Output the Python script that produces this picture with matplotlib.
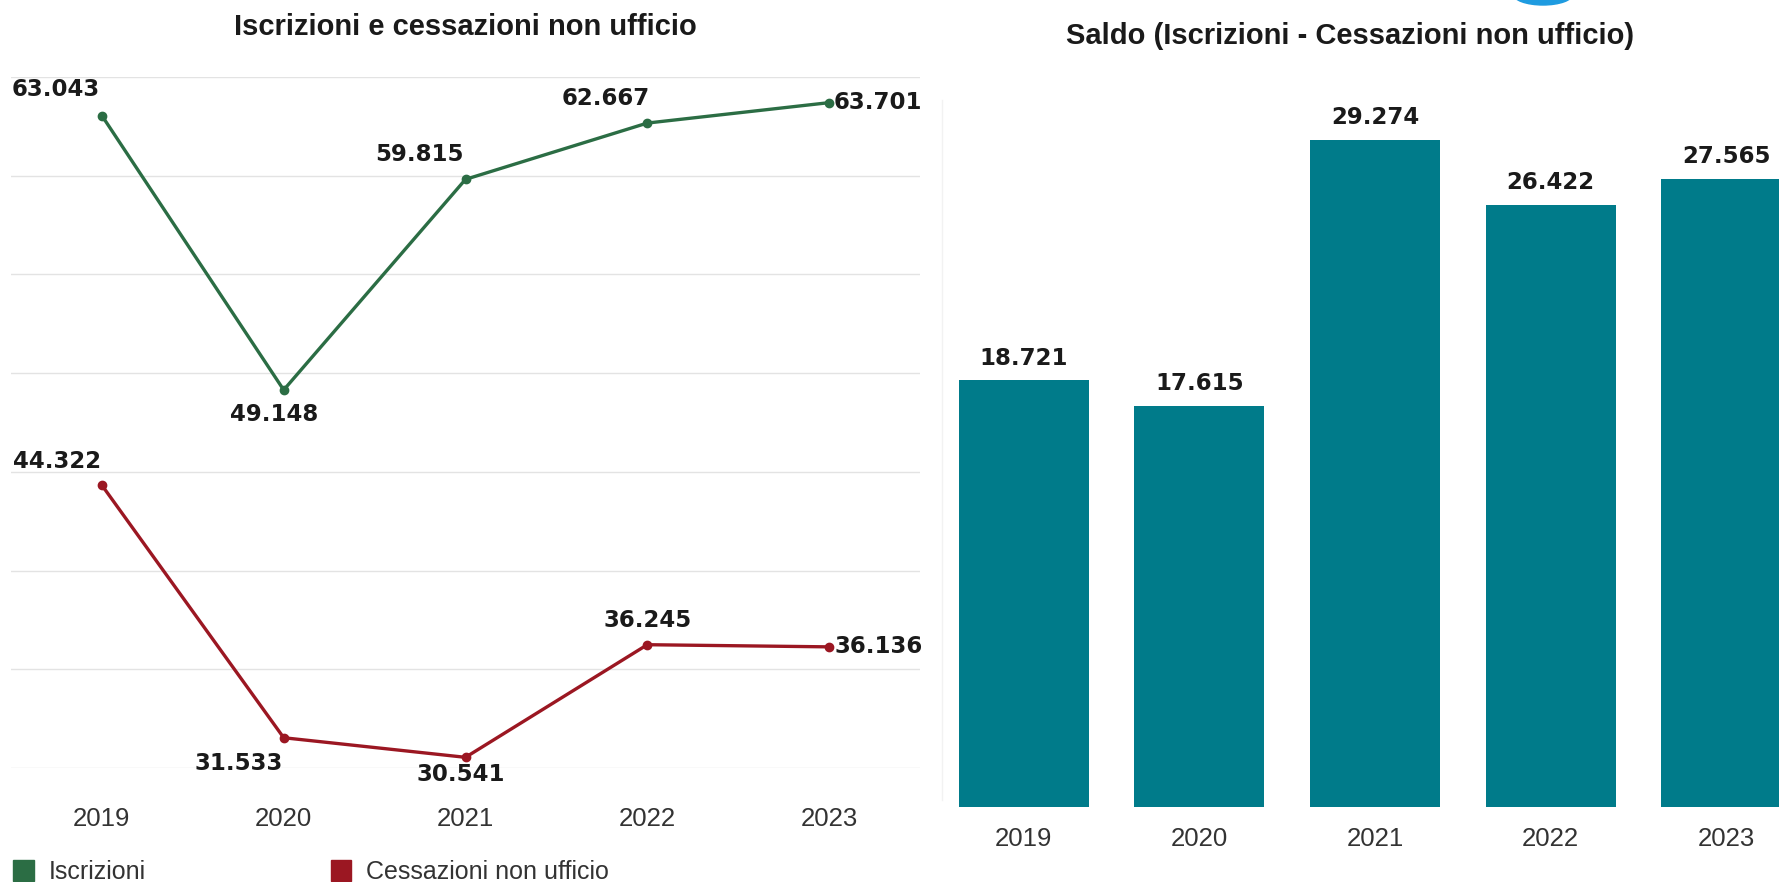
import matplotlib.pyplot as plt
from matplotlib.patches import Patch, Ellipse

# data
years = ["2019", "2020", "2021", "2022", "2023"]
iscrizioni = [63043, 49148, 59815, 62667, 63701]
cessazioni = [44322, 31533, 30541, 36245, 36136]
saldo = [18721, 17615, 29274, 26422, 27565]

GREEN = "#2b6d44"
RED = "#9b1722"
TEAL = "#007b8a"
GRID = "#e3e3e3"

NUM_FONT = ["DejaVu Sans"]
TXT_FONT = ["Liberation Sans", "DejaVu Sans"]


def fmt(v):
    # italian thousands separator
    return f"{v:,}".replace(",", ".")


W, H = 1779, 882
fig = plt.figure(figsize=(W / 100, H / 100), dpi=100)


def fx(px):
    return px / W


def fy(py):
    return 1 - py / H


# ---- left: lines ----
ax1 = fig.add_axes([fx(11), fy(768), fx(920) - fx(11), fy(77) - fy(768)])
x = list(range(len(years)))
ax1.plot(x, iscrizioni, color=GREEN, lw=2.4, marker="o", ms=6)
ax1.plot(x, cessazioni, color=RED, lw=2.4, marker="o", ms=6)
ax1.set_xlim(-0.5, len(years) - 0.5)
ax1.set_ylim(30000, 65000)
ax1.set_yticks(range(30000, 65001, 5000))
ax1.set_yticklabels([])
ax1.grid(axis="y", color=GRID, lw=1)
ax1.set_axisbelow(True)
ax1.tick_params(length=0)
for s in ax1.spines.values():
    s.set_visible(False)
ax1.set_xticks(x)
ax1.set_xticklabels(years, fontsize=18.5, family=TXT_FONT, color="#333333")
ax1.tick_params(axis="x", pad=28)

# label offsets in pixels (dx, dy, ha)
isc_off = [(-46, 26, "center"), (-10, -25, "center"), (-46, 25, "center"),
           (-42, 25, "center"), (5, 0, "left")]
ces_off = [(-45, 24, "center"), (-45, -26, "center"), (-5, -17, "center"),
           (0, 24, "center"), (5, 0, "left")]
for vals, offs in ((iscrizioni, isc_off), (cessazioni, ces_off)):
    for i, v in enumerate(vals):
        dx, dy, ha = offs[i]
        ax1.annotate(fmt(v), (i, v), xytext=(dx, dy), textcoords="offset pixels",
                     ha=ha, va="center", fontsize=16.5, fontweight="bold",
                     family=NUM_FONT, color="#1a1a1a")

fig.text(fx(465), fy(27), "Iscrizioni e cessazioni non ufficio", ha="center",
         va="center", fontsize=21, fontweight="bold", family=TXT_FONT,
         color="#1a1a1a")

# legend under the line chart
handles = [Patch(color=GREEN), Patch(color=RED)]
fig.legend(handles, ["Iscrizioni", "Cessazioni non ufficio"], ncol=2,
           loc="center left", bbox_to_anchor=(fx(13), fy(872)), frameon=False,
           borderpad=0, borderaxespad=0,
           handlelength=0.82, handleheight=0.9, handletextpad=0.6,
           columnspacing=7.4, prop={"family": TXT_FONT, "size": 18},
           labelcolor="#333333")

# ---- right: bars ----
ax2 = fig.add_axes([fx(936), fy(807), fx(1814) - fx(936), fy(77) - fy(807)])
ax2.bar(x, saldo, width=0.74, color=TEAL)
ax2.set_xlim(-0.5, len(years) - 0.5)
ax2.set_ylim(0, (807 - 77) / 22.79 * 1000)
ax2.set_yticks([])
ax2.tick_params(length=0)
for s in ax2.spines.values():
    s.set_visible(False)
ax2.set_xticks(x)
ax2.set_xticklabels(years, fontsize=18.5, family=TXT_FONT, color="#333333")
ax2.tick_params(axis="x", pad=14.5)
for i, v in enumerate(saldo):
    ax2.annotate(fmt(v), (i, v), xytext=(0, 22), textcoords="offset pixels",
                 ha="center", va="center", fontsize=16.5, fontweight="bold",
                 family=NUM_FONT, color="#1a1a1a")

fig.text(fx(1350), fy(36), "Saldo (Iscrizioni - Cessazioni non ufficio)",
         ha="center", va="center", fontsize=21, fontweight="bold",
         family=TXT_FONT, color="#1a1a1a")

# faint panel separator and the small blue shape at the top edge
fig.add_artist(plt.Line2D([fx(942), fx(942)], [fy(800), fy(100)], color="#f2f2f2", lw=1))
fig.add_artist(Ellipse((fx(1543), fy(-6)), fx(60), 22 / H, color="#1e9be0"))

fig.savefig("out.png", dpi=100)
